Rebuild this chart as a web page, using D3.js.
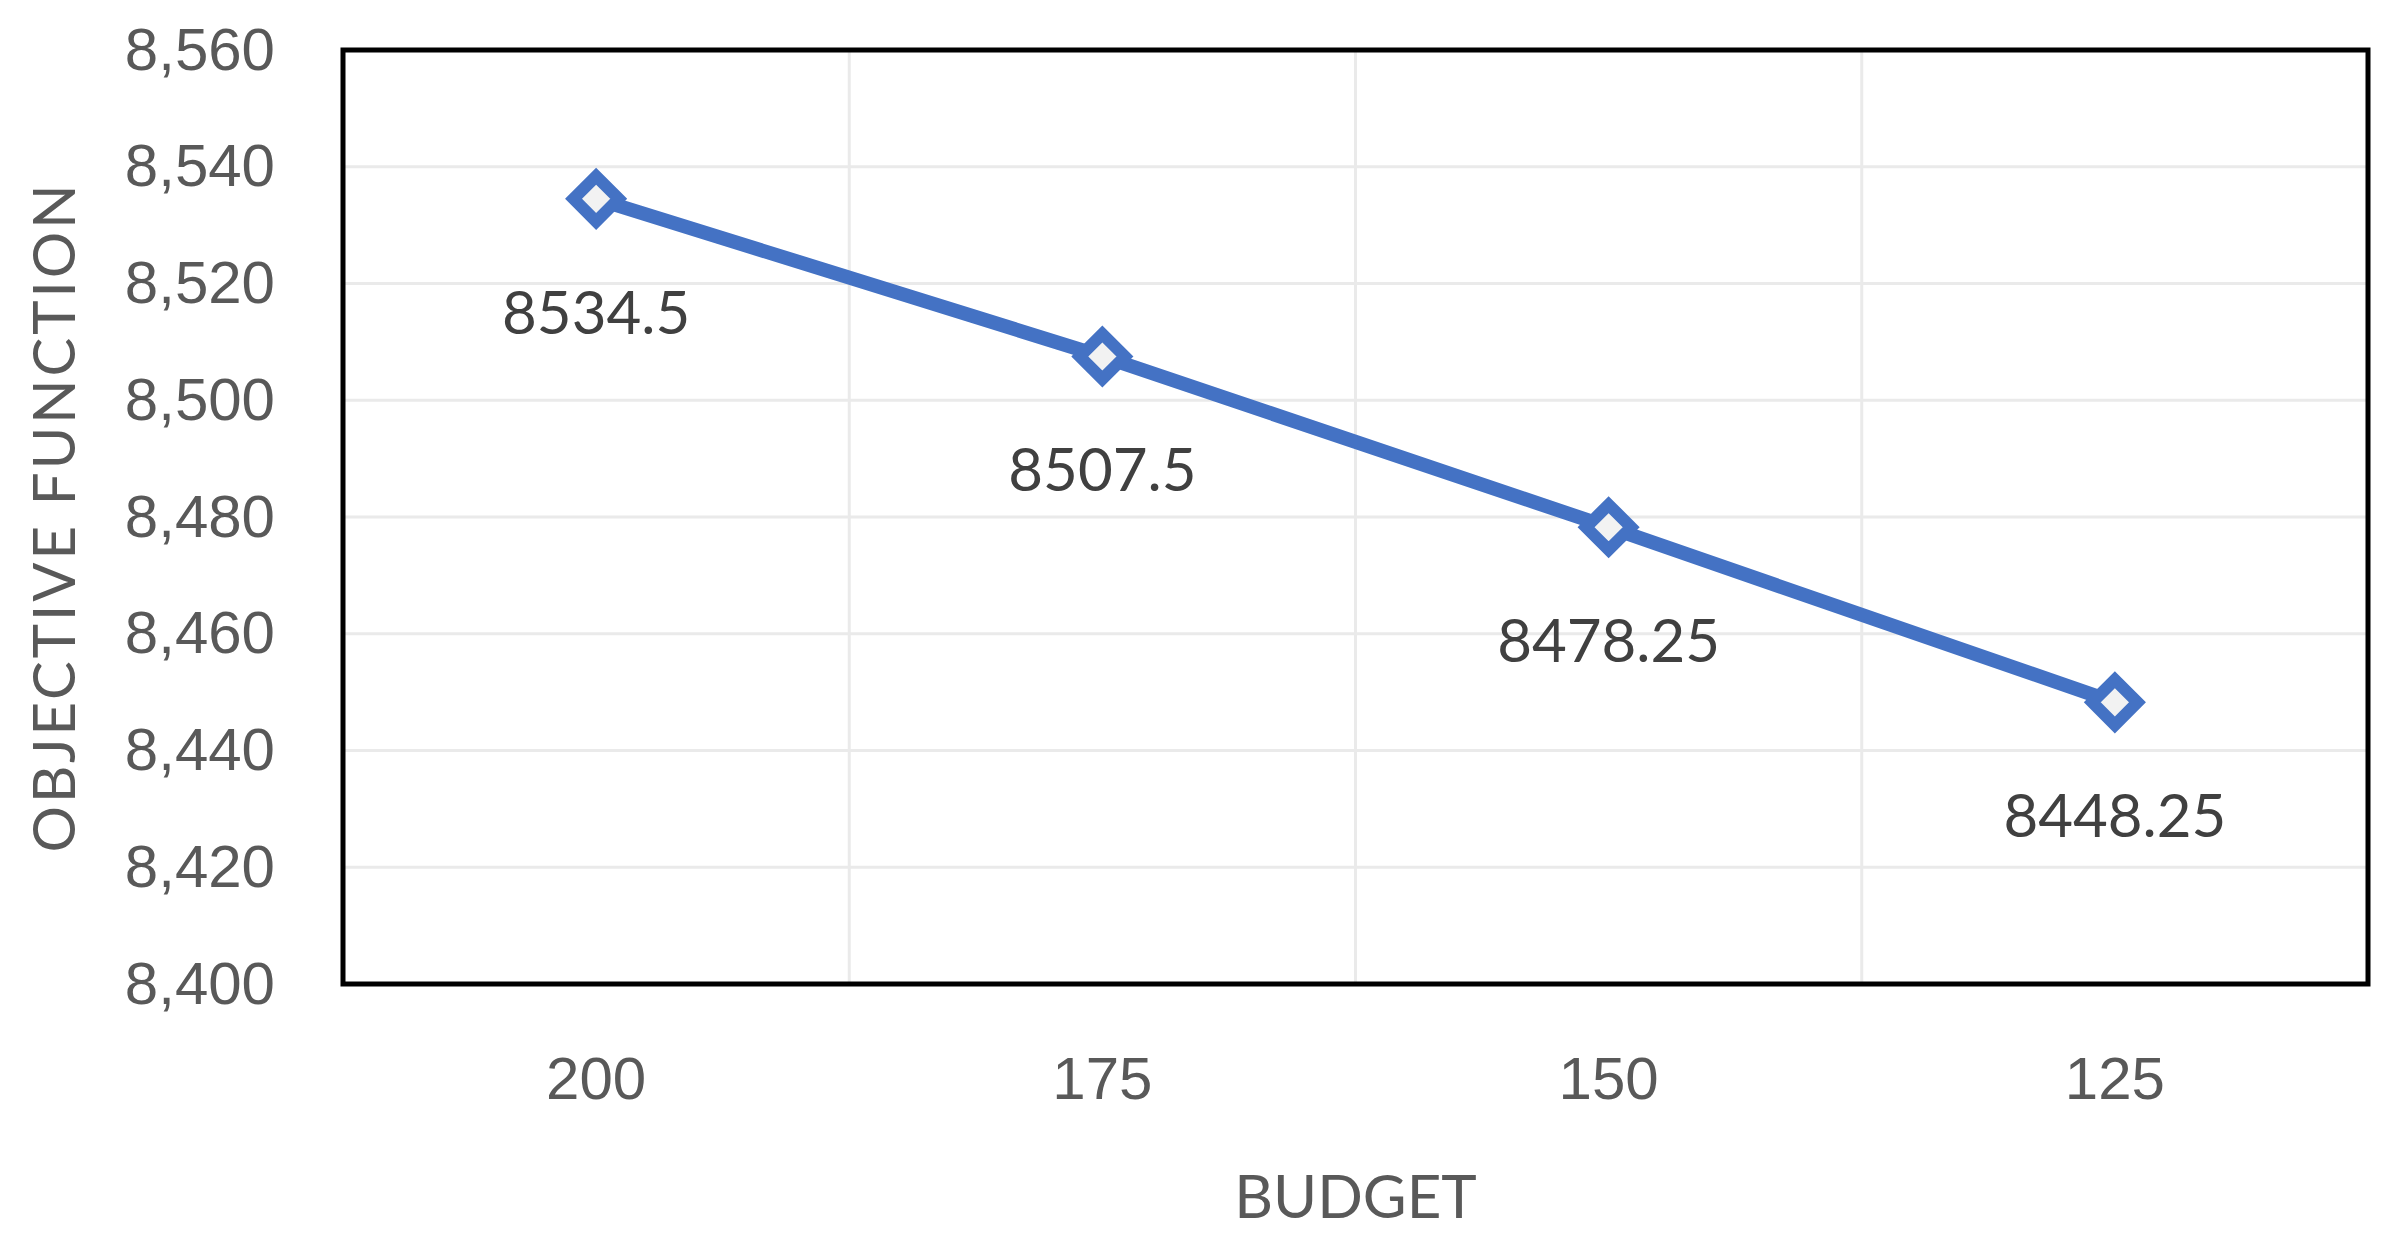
<!DOCTYPE html>
<html><head><meta charset="utf-8">
<script src="https://cdn.jsdelivr.net/npm/d3@7"></script>
<style>body{margin:0;background:#fff}svg{display:block;font-family:Lato,"Noto Sans",sans-serif}</style>
</head><body><div id="chart"></div>
<script>
const budgets = ["200", "175", "150", "125"];
const objective = [8534.5, 8507.5, 8478.25, 8448.25];
const yTicks = [8400, 8420, 8440, 8460, 8480, 8500, 8520, 8540, 8560];

const W = 2393, H = 1241;
const m = {left: 343, right: 25, top: 50, bottom: 257};
const svg = d3.select('#chart').append('svg').attr('width', W).attr('height', H);

const x = d3.scaleBand().domain(budgets).range([m.left, W - m.right]);
const y = d3.scaleLinear().domain([8400, 8560]).range([H - m.bottom, m.top]);

// grid
svg.append('g').selectAll('line').data(yTicks.slice(1, -1)).join('line')
    .attr('x1', m.left).attr('x2', W - m.right)
    .attr('y1', d => y(d)).attr('y2', d => y(d))
    .style('stroke', '#eaeaea').style('stroke-width', 3);
svg.append('g').selectAll('line').data(budgets.slice(1)).join('line')
    .attr('x1', d => x(d)).attr('x2', d => x(d))
    .attr('y1', m.top).attr('y2', H - m.bottom)
    .style('stroke', '#eaeaea').style('stroke-width', 3);

svg.append('rect')
    .attr('x', m.left).attr('y', m.top)
    .attr('width', W - m.left - m.right).attr('height', H - m.top - m.bottom)
    .style('fill', 'none').style('stroke', '#000').style('stroke-width', 5);

// axes
const yAxis = svg.append('g').attr('transform', `translate(${m.left - 68},0)`)
    .call(d3.axisLeft(y).tickValues(yTicks).tickSize(0).tickPadding(0));
yAxis.select('.domain').remove();
yAxis.selectAll('text').style('font-size', '60px').style('fill', '#595959');

const xAxis = svg.append('g').attr('transform', `translate(0,${H - m.bottom + 72})`)
    .call(d3.axisBottom(x).tickSize(0).tickPadding(0));
xAxis.select('.domain').remove();
xAxis.selectAll('text').style('font-size', '60px').style('fill', '#595959');

svg.append('text').attr('x', (m.left + W - m.right) / 2).attr('y', 1218)
    .attr('text-anchor', 'middle').style('font-size', '60px').style('fill', '#595959')
    .text('BUDGET');
svg.append('text').attr('transform', `translate(75,${(m.top + H - m.bottom) / 2}) rotate(-90)`)
    .attr('text-anchor', 'middle').style('font-size', '58px').style('fill', '#595959')
    .style('letter-spacing', '3px').text('OBJECTIVE FUNCTION');

// series
const cx = (d, i) => x(budgets[i]) + x.bandwidth() / 2;
const line = d3.line().x(cx).y(d => y(d));
svg.append('path').datum(objective).attr('d', line)
    .style('fill', 'none').style('stroke', '#4472C4').style('stroke-width', 14);

svg.append('g').selectAll('path').data(objective).join('path')
    .attr('transform', (d, i) => `translate(${cx(d, i)},${y(d)})`)
    .attr('d', d3.symbol(d3.symbolDiamond2, 1300))
    .style('fill', '#f2f2f2').style('stroke', '#4472C4').style('stroke-width', 12);

svg.append('g').selectAll('text').data(objective).join('text')
    .attr('x', cx).attr('y', d => y(d) + 135)
    .attr('text-anchor', 'middle').style('font-size', '60px').style('fill', '#404040')
    .text(d => d);
</script></body></html>
